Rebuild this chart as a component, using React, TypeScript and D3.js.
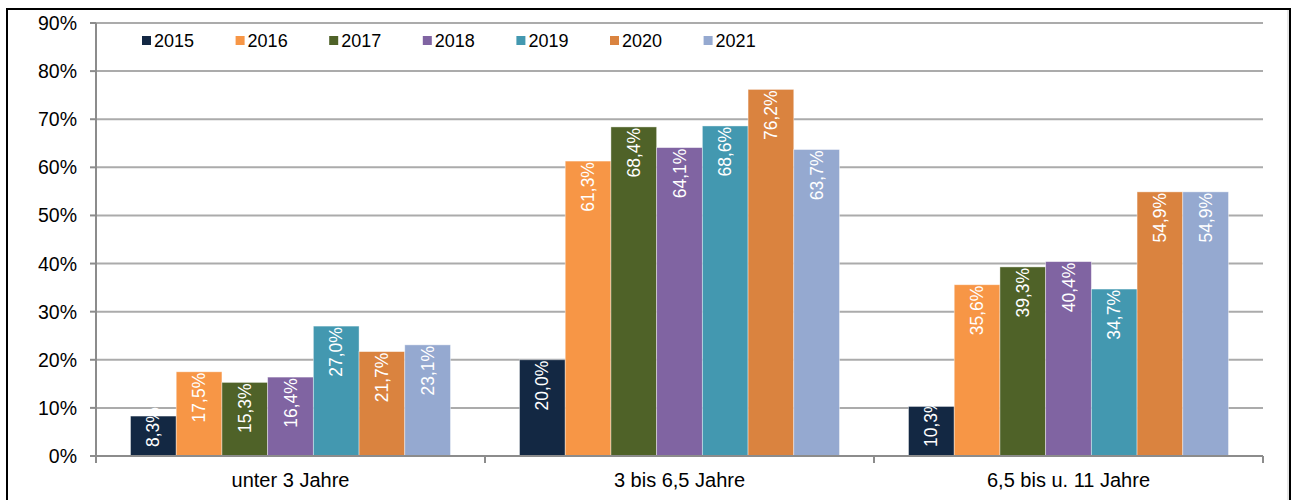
import React from "react";
import * as d3 from "d3";

const categories = ["unter 3 Jahre", "3 bis 6,5 Jahre", "6,5 bis u. 11 Jahre"];
const years = ["2015", "2016", "2017", "2018", "2019", "2020", "2021"];
const s2015 = [8.3, 20.0, 10.3];
const s2016 = [17.5, 61.3, 35.6];
const s2017 = [15.3, 68.4, 39.3];
const s2018 = [16.4, 64.1, 40.4];
const s2019 = [27.0, 68.6, 34.7];
const s2020 = [21.7, 76.2, 54.9];
const s2021 = [23.1, 63.7, 54.9];
const seriesValues = [s2015, s2016, s2017, s2018, s2019, s2020, s2021];
const colors = ["#132843", "#F79646", "#4F6228", "#8064A2", "#4398B0", "#DA833F", "#95A9D0"];
const yTicks = [0, 10, 20, 30, 40, 50, 60, 70, 80, 90];

const W = 1293;
const H = 500;
const left = 96;
const right = 1263;
const top = 23;
const bottom = 456;

const fmt = (v: number) => v.toFixed(1).replace(".", ",") + "%";
const charW = (c: string) => (c === "," ? 0.278 : c === "%" ? 0.889 : 0.556);
const estLen = (s: string, fs: number) => s.split("").reduce((a, c) => a + charW(c), 0) * fs;

export default function App() {
  const y = d3.scaleLinear().domain([0, 90]).range([bottom, top]);
  const x0 = d3.scaleBand().domain(categories).range([left, right]).paddingInner(0).paddingOuter(0);
  const x1 = d3.scaleBand().domain(years).range([0, x0.bandwidth()]).paddingInner(0).paddingOuter(0.755);
  const labelFs = 17.5;
  const font = "'Liberation Sans', Arial, sans-serif";
  const gridColor = "#ABABAB";

  return (
    <svg width={W} height={H} style={{ position: "absolute", left: 0, top: 0, fontFamily: font }}>
      <rect x={0} y={0} width={W} height={H} fill="#fff" />
      <rect x={7} y={9} width={1283} height={520} fill="none" stroke="#000" strokeWidth={2} />
      <line x1={1288} x2={1288} y1={10} y2={H} stroke="#cfcfcf" strokeWidth={1} />
      {/* gridlines */}
      {yTicks.map((t) => (
        <g key={t}>
          {t > 0 && <line x1={left} x2={right} y1={y(t)} y2={y(t)} stroke={gridColor} strokeWidth={2} />}
          <line x1={90} x2={left} y1={y(t)} y2={y(t)} stroke="#8c8c8c" strokeWidth={2} />
          <text x={77} y={y(t) + 7} textAnchor="end" fontSize={19.5} fill="#000">
            {t}%
          </text>
        </g>
      ))}
      {/* bars */}
      {categories.map((c, ci) => (
        <g key={c}>
          {years.map((yr, si) => {
            const v = seriesValues[si][ci];
            const bx = (x0(c) as number) + (x1(yr) as number);
            const bw = x1.bandwidth();
            const by = y(v);
            return (
              <rect key={yr} x={bx} y={by} width={bw} height={bottom - by} fill={colors[si]} stroke="#ffffff" strokeOpacity={0.5} strokeWidth={0.8} />
            );
          })}
        </g>
      ))}
      {/* data labels */}
      {categories.map((c, ci) => (
        <g key={c + "l"}>
          {years.map((yr, si) => {
            const v = seriesValues[si][ci];
            const cx = (x0(c) as number) + (x1(yr) as number) + x1.bandwidth() / 2;
            const by = y(v);
            const s = fmt(v);
            const len = estLen(s, labelFs);
            const startY = Math.min(by + 1 + len, bottom - 9);
            return (
              <text
                key={yr}
                transform={`translate(${cx},${startY}) rotate(-90)`}
                textAnchor="start"
                dominantBaseline="central"
                fontSize={labelFs}
                fill="#fff"
              >
                {s}
              </text>
            );
          })}
        </g>
      ))}
      {/* axes */}
      <line x1={left} x2={left} y1={top} y2={bottom + 6} stroke="#8c8c8c" strokeWidth={2} />
      <line x1={90} x2={right} y1={bottom} y2={bottom} stroke="#8c8c8c" strokeWidth={2} />
      {[...categories.map((c) => x0(c) as number), right].map((bx, i) => (
        <line key={i} x1={bx} x2={bx} y1={bottom} y2={bottom + 7} stroke="#8c8c8c" strokeWidth={2} />
      ))}
      {categories.map((c) => (
        <text key={c} x={(x0(c) as number) + x0.bandwidth() / 2} y={487} textAnchor="middle" fontSize={20} fill="#000">
          {c}
        </text>
      ))}
      {/* legend */}
      {years.map((yr, i) => {
        const lx = 142 + i * 93.6;
        return (
          <g key={yr}>
            <rect x={lx} y={36} width={9} height={9} fill={colors[i]} />
            <text x={lx + 12} y={47} fontSize={18} fill="#000">
              {yr}
            </text>
          </g>
        );
      })}
    </svg>
  );
}
